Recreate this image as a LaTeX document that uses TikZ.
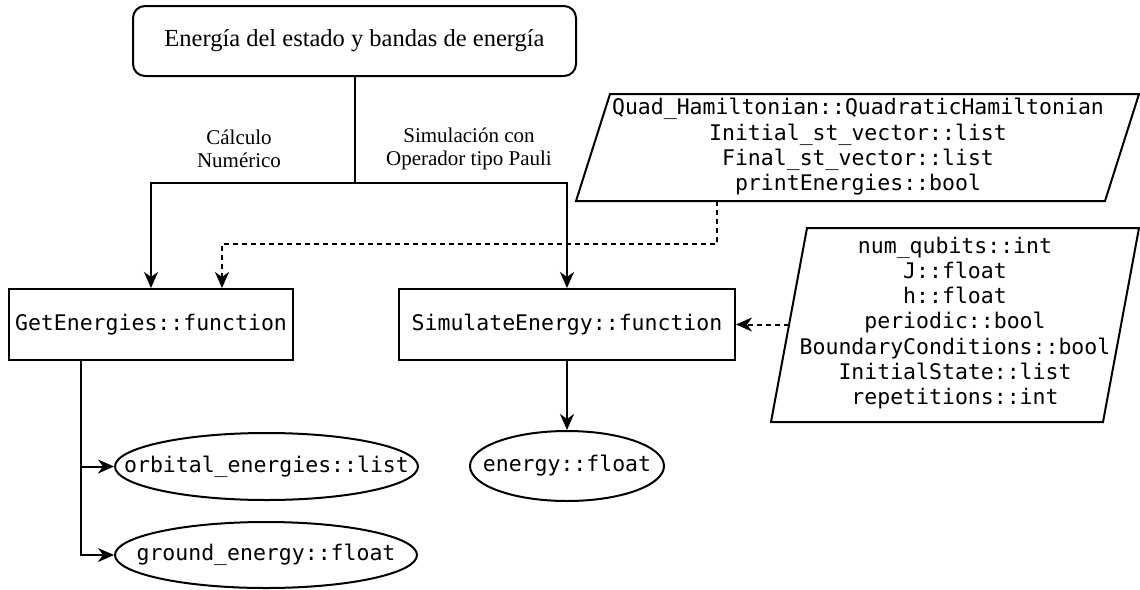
\documentclass[tikz,border=0pt]{standalone}
\usepackage{fontspec}
\setmainfont{Liberation Serif}
\newfontfamily\codefont{DejaVu Sans Mono}
\usetikzlibrary{arrows.meta,shapes.geometric,calc}

\begin{document}
\begin{tikzpicture}[x=1pt,y=-1pt,
  line width=2pt,
  every node/.style={inner sep=0pt},
  code/.style={font=\codefont\fontsize{21.5}{25.3}\selectfont, align=center},
  fnbox/.style={draw, code, minimum height=71pt},
  outell/.style={draw, ellipse, code, inner xsep=-40pt, inner ysep=-20pt},
  lbl/.style={font=\fontsize{21}{23}\selectfont, align=center},
  arr/.style={-{Stealth[length=16pt,width=14pt,inset=5pt]}},
  dsh/.style={arr, dash pattern=on 5pt off 4pt},
]
\useasboundingbox (0,0) rectangle (1140,589);

% title box
\node[draw, rounded corners=12pt, minimum width=443pt, minimum height=70pt,
      font=\fontsize{24.5}{28}\selectfont] (top) at (354.5,41)
  {Energía del estado y bandas de energía};

% function boxes
\node[fnbox, minimum width=284pt] (ge) at (151,324.5) {GetEnergies::function};
\node[fnbox, minimum width=336pt] (se) at (567,324.5) {SimulateEnergy::function};

% outputs
\node[outell, minimum width=303pt, minimum height=67pt] (oe) at (266.5,466.5) {orbital\_energies::list};
\node[outell, minimum width=302pt, minimum height=66pt] (gr) at (266,555) {ground\_energy::float};
\node[outell, minimum width=194pt, minimum height=70pt] (en) at (567,466) {energy::float};

% input parameter blocks (parallelograms)
\coordinate (p1bl) at (576,201);
\coordinate (p1br) at (1105,201);
\coordinate (p1tr) at (1139,94);
\coordinate (p1tl) at (610,94);
\draw (p1bl) -- (p1br) -- (p1tr) -- (p1tl) -- cycle;
\node[code] (p1) at (858,147)
  {Quad\_Hamiltonian::QuadraticHamiltonian\\
   Initial\_st\_vector::list\\
   Final\_st\_vector::list\\
   printEnergies::bool};
\coordinate (p1out) at (717,201);

\coordinate (p2bl) at (771,422);
\coordinate (p2br) at (1103,422);
\coordinate (p2tr) at (1139,228);
\coordinate (p2tl) at (807,228);
\draw (p2bl) -- (p2br) -- (p2tr) -- (p2tl) -- cycle;
\node[code] (p2) at (955,323)
  {num\_qubits::int\\
   J::float\\
   h::float\\
   periodic::bool\\
   BoundaryConditions::bool\\
   InitialState::list\\
   repetitions::int};
\coordinate (p2in) at (789,324.5);

% branching from the title
\coordinate (split) at (354.5,183);
\draw (top.south) -- (split);
\draw[arr] (split) -| (ge.north);
\draw[arr] (split) -| (se.north);
\node[lbl] (lc) at (239,148.5) {Cálculo\\Numérico};
\node[lbl] (ls) at (469,148.5) {Simulación con\\Operador tipo Pauli};

% parameter inputs
\draw[dsh] (p1out) -- ++(0,43) -| ([xshift=71pt]ge.north);
\draw[dsh] (p2in) -- (se.east);

% results
\draw[arr] (se.south) -- (en.north);
\coordinate (trunk) at ([xshift=-70pt]ge.south);
\draw[arr] (trunk) |- (oe.west);
\draw[arr] (trunk) |- (gr.west);
\end{tikzpicture}
\end{document}
